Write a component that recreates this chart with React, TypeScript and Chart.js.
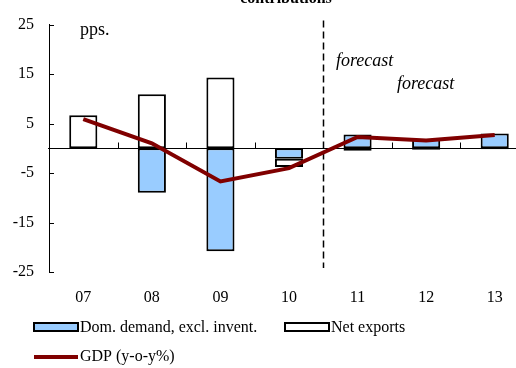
import { useEffect, useRef } from "react";
import { Chart, registerables } from "chart.js";

Chart.register(...registerables);

const categories = ["07", "08", "09", "10", "11", "12", "13"];
const domDemand = [0, -9.0, -20.8, -2.1, 2.8, 1.9, 3.0];
const netExports = [6.7, 10.9, 14.3, -1.7, -0.5, -0.3, -0.2];
const gdp = [5.9, 1.0, -6.7, -4.0, 2.3, 1.6, 2.7];
const yMin = -25;
const yMax = 25;
const yStep = 10;
const forecastIndex = 4;

const SERIF = "'Liberation Serif', 'Times New Roman', serif";

const decorPlugin = {
  id: "decor",
  beforeDatasetsDraw(chart: any) {
    const { ctx, chartArea, scales } = chart;
    const x = scales.x;
    const y = scales.y;
    const y0 = Math.round(y.getPixelForValue(0)) + 0.5;
    ctx.save();
    ctx.strokeStyle = "#000";
    ctx.lineWidth = 1;
    // zero line
    ctx.beginPath();
    ctx.moveTo(chartArea.left - 1, y0);
    ctx.lineTo(chart.width, y0);
    ctx.stroke();
    // category boundary ticks
    for (let i = 0; i < categories.length; i++) {
      const xb = i < categories.length - 1
        ? (x.getPixelForValue(i) + x.getPixelForValue(i + 1)) / 2
        : chartArea.right;
      const xr = Math.round(xb) + 0.5;
      ctx.beginPath();
      ctx.moveTo(xr, y0);
      ctx.lineTo(xr, y0 - 6);
      ctx.stroke();
    }
    // y inner ticks
    for (let v = yMin; v <= yMax; v += yStep) {
      const yy = Math.round(y.getPixelForValue(v)) + 0.5;
      ctx.beginPath();
      ctx.moveTo(chartArea.left, yy);
      ctx.lineTo(chartArea.left + 5, yy);
      ctx.stroke();
    }
    // forecast dashed line
    const xf = Math.round((x.getPixelForValue(forecastIndex - 1) + x.getPixelForValue(forecastIndex)) / 2) + 0.5;
    ctx.setLineDash([7, 4]);
    ctx.lineWidth = 1.5;
    ctx.beginPath();
    ctx.moveTo(xf, chartArea.top - 4);
    ctx.lineTo(xf, chartArea.bottom - 4);
    ctx.stroke();
    ctx.restore();
  },
  afterDraw(chart: any) {
    const { ctx } = chart;
    const ds = chart.data.datasets;
    ctx.save();
    ctx.fillStyle = "#000";
    ctx.textBaseline = "alphabetic";
    // title (cut off)
    ctx.font = `bold 16px ${SERIF}`;
    ctx.textAlign = "center";
    ctx.fillText("contributions", 286, 3);
    ctx.textAlign = "left";
    ctx.textBaseline = "middle";
    ctx.font = `18px ${SERIF}`;
    ctx.fillText("pps.", 80, 30);
    ctx.font = `italic 18px ${SERIF}`;
    ctx.fillText("forecast", 336, 61);
    ctx.fillText("forecast", 397, 84);
    // legend
    ctx.font = `16px ${SERIF}`;
    const box = (x: number, yc: number, fill: string) => {
      ctx.fillStyle = fill;
      ctx.fillRect(x, yc - 4, 44, 8);
      ctx.strokeStyle = "#000";
      ctx.lineWidth = 2;
      ctx.strokeRect(x, yc - 4, 44, 8);
    };
    box(34, 327, ds[0].backgroundColor);
    ctx.fillStyle = "#000";
    ctx.fillText(ds[0].label, 80, 328);
    box(285, 327, ds[1].backgroundColor);
    ctx.fillStyle = "#000";
    ctx.fillText(ds[1].label, 331, 328);
    ctx.strokeStyle = ds[2].borderColor;
    ctx.lineWidth = 4;
    ctx.beginPath();
    ctx.moveTo(34, 357);
    ctx.lineTo(78, 357);
    ctx.stroke();
    ctx.fillStyle = "#000";
    ctx.fillText(ds[2].label, 80, 357);
    ctx.restore();
  },
};

export default function App() {
  const ref = useRef<HTMLCanvasElement>(null);
  useEffect(() => {
    Chart.defaults.font.family = SERIF;
    Chart.defaults.font.size = 16;
    Chart.defaults.color = "#000";
    const chart = new Chart(ref.current!, {
      type: "bar",
      data: {
        labels: categories,
        datasets: [
          {
            type: "bar",
            label: "Dom. demand, excl. invent.",
            data: domDemand,
            backgroundColor: "#99CCFF",
            borderColor: "#000",
            borderWidth: 2,
            borderSkipped: false,
            stack: "c",
            order: 1,
            barPercentage: 0.41,
            categoryPercentage: 1,
          },
          {
            type: "bar",
            label: "Net exports",
            data: netExports,
            backgroundColor: "#FFFFFF",
            borderColor: "#000",
            borderWidth: 2,
            borderSkipped: false,
            stack: "c",
            order: 1,
            barPercentage: 0.41,
            categoryPercentage: 1,
          },
          {
            type: "line",
            label: "GDP (y-o-y%)",
            data: gdp,
            borderColor: "#800000",
            backgroundColor: "#800000",
            borderWidth: 4,
            pointRadius: 0,
            tension: 0,
            stack: "gdp",
            order: 0,
          },
        ],
      } as any,
      options: {
        responsive: false,
        animation: false,
        devicePixelRatio: 1,
        layout: { padding: { top: 24, left: 0, right: 1, bottom: 0 } },
        plugins: { legend: { display: false }, tooltip: { enabled: false }, title: { display: false } },
        scales: {
          x: {
            type: "category",
            stacked: true,
            offset: true,
            grid: { display: false, drawTicks: false },
            border: { display: false },
            ticks: { padding: 16, maxRotation: 0, font: { size: 16, family: SERIF }, color: "#000" },
            afterFit: (s: any) => { s.height = 96; },
          },
          y: {
            stacked: true,
            min: yMin,
            max: yMax,
            grid: { display: true, drawOnChartArea: false, drawTicks: false },
            border: { display: true, color: "#000", width: 1 },
            ticks: { stepSize: yStep, padding: 15, font: { size: 16, family: SERIF }, color: "#000" },
            afterFit: (s: any) => { s.width = 49; },
          },
        },
      } as any,
      plugins: [decorPlugin],
    });
    return () => chart.destroy();
  }, []);
  return (
    <div style={{ position: "fixed", left: 0, top: 0, width: 516, height: 368, overflow: "hidden", background: "#fff" }}>
      <canvas ref={ref} width={530} height={368} style={{ display: "block" }} />
    </div>
  );
}
